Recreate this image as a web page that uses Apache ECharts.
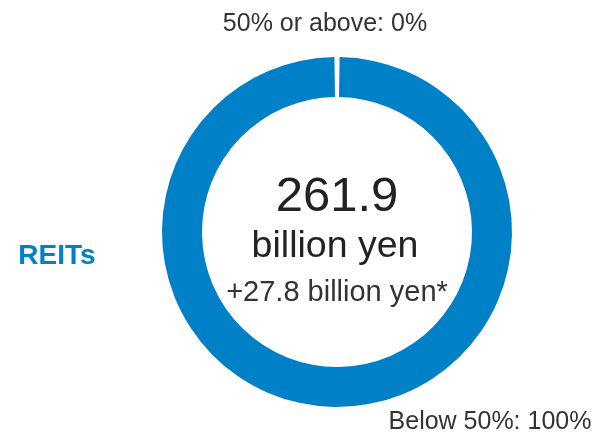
<!DOCTYPE html>
<html>
<head>
<meta charset="utf-8">
<script src="https://cdn.jsdelivr.net/npm/echarts@6/dist/echarts.min.js"></script>
<style>
  html, body { margin: 0; padding: 0; background: #fff; }
  #reits_ratio { width: 596px; height: 434px; }
</style>
</head>
<body>
<div id="reits_ratio"></div>
<script>
// shares of REIT holdings by ownership ratio
const categories = ["50% or above", "Below 50%"];
const shares = [0, 100];
const totalText = "261.9";
const unitText = "billion yen";
const changeText = "+27.8 billion yen*";

const blue = "#0080c6";
const textColor = "#333333";
const font = "Liberation Sans, Arial, sans-serif";

function label(text, x, baseline, size, color, weight) {
  // place text by its baseline, zrender centers on the middle of the line
  return {
    type: "text",
    x: x,
    y: baseline - size * 0.35,
    style: {
      text: text,
      font: (weight || "normal") + " " + size + "px " + font,
      fill: color,
      textAlign: "center",
      textVerticalAlign: "middle",
    },
  };
}

const myChart = echarts.init(document.getElementById("reits_ratio"));
const option = {
  animation: false,
  series: [
    {
      type: "pie",
      center: [337, 232],
      radius: [135, 175],
      startAngle: 90.85,
      clockwise: true,
      // the 0% slice is kept as a thin white gap at the top
      minAngle: 1.7,
      label: { show: false },
      labelLine: { show: false },
      itemStyle: { color: blue },
      data: categories.map((c, i) => ({
        name: c,
        value: shares[i],
        itemStyle: { color: shares[i] === 0 ? "#fff" : blue },
      })),
    },
  ],
  graphic: [
    label(categories[0] + ": " + shares[0] + "%", 325, 33, 25, textColor),
    label(categories[1] + ": " + shares[1] + "%", 490, 431, 25, textColor),
    label("REITs", 57, 266, 28, blue, "bold"),
    label(totalText, 337, 215, 49, "#222"),
    label(unitText, 335, 260, 37.5, "#222"),
    label(changeText, 337, 303, 29, textColor),
  ],
};
myChart.setOption(option);
</script>
</body>
</html>
